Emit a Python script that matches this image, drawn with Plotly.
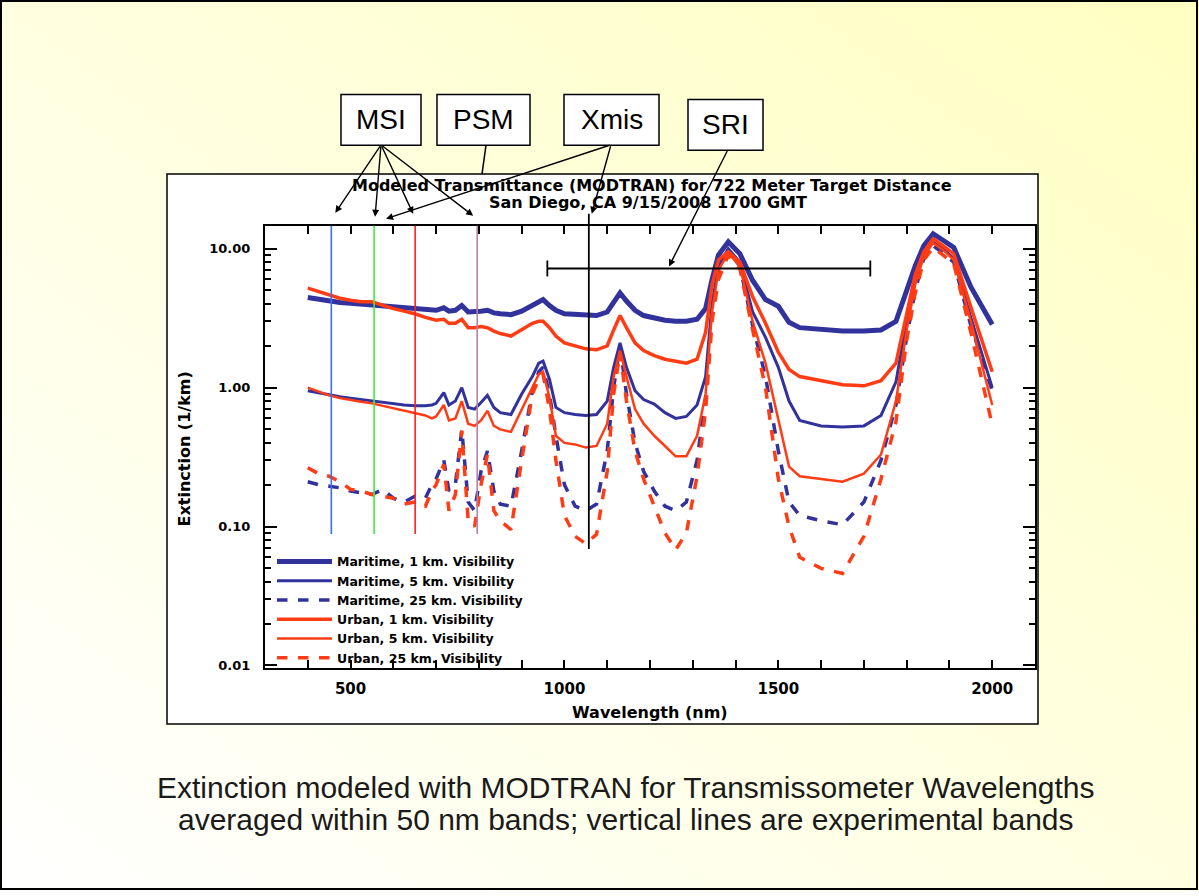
import base64
import math
import plotly.graph_objects as go

W, H = 1199, 896

# ---------------- data ----------------
wavelength = [400, 425, 450, 475, 500, 525, 550, 575, 600, 625, 650, 675, 690, 700, 718, 730, 745, 760,
              775, 790, 805, 820, 835, 850, 875, 900, 925, 940, 950, 965, 980, 1000, 1025, 1050, 1075,
              1100, 1115, 1130, 1145, 1165, 1185, 1210, 1235, 1260, 1285, 1310, 1330, 1345, 1360, 1383,
              1410, 1440, 1470, 1500, 1525, 1550, 1600, 1650, 1700, 1740, 1775, 1800, 1820, 1840, 1862,
              1885, 1910, 1950, 2000]

maritime_1km = [4.45, 4.3, 4.2, 4.1, 4.05, 4.0, 3.95, 3.85, 3.8, 3.75, 3.7, 3.65, 3.65, 3.6, 3.75, 3.55, 3.6, 3.9,
                3.5, 3.5, 3.55, 3.6, 3.45, 3.4, 3.35, 3.55, 3.9, 4.2, 4.3, 3.9, 3.6, 3.4, 3.35, 3.3, 3.3,
                3.5, 4.1, 4.8, 4.2, 3.6, 3.3, 3.15, 3.05, 3.0, 3.0, 3.1, 3.7, 6.0, 9.0, 11.2,
                9.2, 5.9, 4.3, 3.85, 2.95, 2.7, 2.6, 2.55, 2.55, 2.6, 3.0, 5.0, 7.5, 10.5, 12.8,
                11.5, 10.2, 5.3, 2.85]

maritime_5km = [0.95, 0.92, 0.88, 0.86, 0.84, 0.82, 0.8, 0.79, 0.77, 0.75, 0.74, 0.74, 0.75, 0.77, 0.92, 0.75, 0.8, 1.0,
                0.72, 0.7, 0.78, 0.88, 0.72, 0.66, 0.64, 0.9, 1.2, 1.5, 1.55, 1.15, 0.72, 0.66, 0.64, 0.63, 0.64,
                0.8, 1.4, 2.1, 1.4, 0.95, 0.82, 0.76, 0.66, 0.6, 0.62, 0.75, 1.2, 4.0, 7.5, 10.0,
                8.0, 3.5, 2.3, 1.4, 0.8, 0.58, 0.53, 0.52, 0.53, 0.63, 1.1, 3.0, 6.0, 9.0, 11.5,
                10.0, 8.5, 3.2, 1.0]

maritime_25km = [0.21, 0.2, 0.195, 0.19, 0.18, 0.175, 0.17, 0.185, 0.16, 0.15, 0.165, 0.16, 0.2, 0.22, 0.3, 0.18, 0.2, 0.5,
                 0.15, 0.13, 0.25, 0.35, 0.18, 0.145, 0.14, 0.35, 0.95, 1.3, 1.4, 0.9, 0.45, 0.2, 0.14, 0.13, 0.145,
                 0.35, 1.0, 2.0, 0.9, 0.4, 0.25, 0.18, 0.14, 0.13, 0.15, 0.3, 0.85, 3.5, 6.5, 9.5,
                 7.5, 2.8, 1.2, 0.35, 0.15, 0.12, 0.11, 0.103, 0.15, 0.3, 0.75, 2.3, 5.0, 8.5, 10.5,
                 9.3, 8.0, 2.8, 0.95]

urban_1km = [5.2, 4.9, 4.6, 4.4, 4.25, 4.15, 4.15, 3.9, 3.7, 3.55, 3.4, 3.2, 3.1, 3.05, 3.1, 2.9, 2.9, 3.1,
             2.7, 2.7, 2.75, 2.7, 2.55, 2.45, 2.35, 2.6, 2.9, 3.0, 3.0, 2.7, 2.35, 2.1, 2.0, 1.9, 1.87,
             2.0, 2.6, 3.3, 2.7, 2.1, 1.85, 1.7, 1.6, 1.55, 1.5, 1.6, 2.5, 5.5, 8.3, 9.5,
             8.0, 4.5, 2.9, 1.8, 1.35, 1.2, 1.12, 1.05, 1.03, 1.12, 1.5, 3.5, 6.5, 9.5, 11.8,
             10.5, 9.2, 3.8, 1.3]

urban_5km = [1.0, 0.94, 0.88, 0.84, 0.81, 0.79, 0.77, 0.74, 0.71, 0.68, 0.66, 0.63, 0.6, 0.62, 0.75, 0.58, 0.6, 0.8,
             0.55, 0.53, 0.58, 0.68, 0.53, 0.5, 0.48, 0.7, 1.0, 1.25, 1.3, 0.85, 0.45, 0.4, 0.39, 0.37, 0.38,
             0.55, 1.2, 1.85, 1.2, 0.7, 0.55, 0.45, 0.38, 0.32, 0.32, 0.45, 0.9, 3.5, 7.0, 9.3,
             7.5, 3.0, 1.5, 0.6, 0.27, 0.23, 0.22, 0.21, 0.24, 0.33, 0.8, 2.6, 5.5, 8.8, 11.0,
             9.8, 8.3, 3.0, 0.75]

urban_25km = [0.265, 0.24, 0.23, 0.21, 0.185, 0.18, 0.17, 0.165, 0.16, 0.145, 0.15, 0.14, 0.18, 0.2, 0.28, 0.13, 0.17, 0.49,
              0.11, 0.1, 0.2, 0.33, 0.13, 0.11, 0.095, 0.3, 0.9, 1.15, 1.25, 0.7, 0.3, 0.12, 0.085, 0.075, 0.088,
              0.25, 0.9, 1.8, 0.8, 0.35, 0.22, 0.14, 0.09, 0.068, 0.09, 0.23, 0.68, 3.0, 6.0, 9.0,
              7.2, 2.6, 1.0, 0.22, 0.1, 0.06, 0.05, 0.046, 0.085, 0.22, 0.57, 2.2, 4.8, 8.3, 10.2,
              9.0, 7.8, 2.5, 0.54]

series_names = ["Maritime, 1 km. Visibility", "Maritime, 5 km. Visibility", "Maritime, 25 km. Visibility",
                "Urban, 1 km. Visibility", "Urban, 5 km. Visibility", "Urban, 25 km. Visibility"]

# experimental bands (nm)
msi_bands = [455, 555, 651, 796]
msi_band_colors = ["#3c6cff", "#3cf03c", "#ff2020", "#b882a8"]
xmis_band = 1057
sri_range = [960, 1715]
sri_level = 7.2

x_tick_vals = [500, 1000, 1500, 2000]
x_tick_text = ["500", "1000", "1500", "2000"]
x_minor_vals = [400, 600, 700, 800, 900, 1100, 1200, 1300, 1400, 1600, 1700, 1800, 1900]
y_tick_vals = [0.01, 0.1, 1, 10]
y_tick_text = ["0.01", "0.10", "1.00", "10.00"]
y_minor_vals = [m * 10.0 ** e for e in (-2, -1, 0, 1) for m in range(2, 10)]

title_lines = ["Modeled Transmittance (MODTRAN) for 722 Meter Target Distance",
               "San Diego, CA 9/15/2008 1700 GMT"]
caption_lines = ["Extinction modeled with MODTRAN for Transmissometer Wavelengths",
                 "averaged within 50 nm bands; vertical lines are experimental bands"]

# ---------------- layout helpers ----------------
XR = [300, 2100]
YR = [-2.02, 1.165]
PL, PR, PT, PB = 265, 1035, 227, 672


def px(x):
    return x / W


def py(y):
    return 1 - y / H


def wl_px(l):
    return PL + (l - XR[0]) / (XR[1] - XR[0]) * (PR - PL)


BLUE = "#32329c"
RED = "#ff3c14"
TF = "DejaVu Sans"
SANS = "Liberation Sans, Arial"

fig = go.Figure()
styles = [
    (maritime_1km, BLUE, 5, "solid"),
    (maritime_5km, BLUE, 3, "solid"),
    (maritime_25km, BLUE, 3.5, "dash"),
    (urban_1km, RED, 3.5, "solid"),
    (urban_5km, RED, 2.5, "solid"),
    (urban_25km, RED, 3.5, "dash"),
]
for (vals, col, w, dash), name in zip(styles, series_names):
    fig.add_trace(go.Scatter(x=wavelength, y=vals, mode="lines", name=name,
                             line=dict(color=col, width=w, dash=dash)))
# empty traces so the mirrored (top/right) tick axes are rendered
fig.add_trace(go.Scatter(x=[None], y=[None], xaxis="x2", yaxis="y2", showlegend=False, hoverinfo="skip"))
fig.add_trace(go.Scatter(x=[None], y=[None], xaxis="x2", yaxis="y3", showlegend=False, hoverinfo="skip"))

shapes = []
annotations = []


def label(x, y, text, font, **kw):
    d = dict(xref="paper", yref="paper", x=px(x), y=py(y), showarrow=False, text=text,
             xanchor="center", yanchor="middle", font=font)
    d.update(kw)
    annotations.append(d)


# gradient slide background
svg = (f'<svg xmlns="http://www.w3.org/2000/svg" width="{W}" height="{H}">'
       '<defs><linearGradient id="g" x1="1" y1="0" x2="0" y2="1">'
       '<stop offset="0" stop-color="#FFFFC2"/><stop offset="1" stop-color="#FFFFFF"/>'
       '</linearGradient></defs><rect width="100%" height="100%" fill="url(#g)"/></svg>')
src = "data:image/svg+xml;base64," + base64.b64encode(svg.encode()).decode()

# slide border + white figure panel
shapes.append(dict(type="rect", xref="paper", yref="paper", x0=px(1), x1=px(1197), y0=py(1), y1=py(894),
                   line=dict(color="black", width=2), fillcolor="rgba(0,0,0,0)", layer="below"))
shapes.append(dict(type="rect", xref="paper", yref="paper", x0=px(167), x1=px(1038), y0=py(175), y1=py(728),
                   line=dict(color="black", width=1.5), fillcolor="white", layer="below"))

# vertical band lines
for b, c in zip(msi_bands, msi_band_colors):
    shapes.append(dict(type="line", xref="x", yref="paper", x0=b, x1=b, y0=py(537), y1=py(PT),
                       line=dict(color=c, width=1.6), layer="above"))
shapes.append(dict(type="line", xref="x", yref="paper", x0=xmis_band, x1=xmis_band, y0=py(552), y1=py(215),
                   line=dict(color="black", width=1.8), layer="above"))

# SRI bar
sri_y = PT + (YR[1] - math.log10(sri_level)) / (YR[1] - YR[0]) * (PB - PT)
shapes.append(dict(type="line", xref="x", yref="paper", x0=sri_range[0], x1=sri_range[1],
                   y0=py(sri_y), y1=py(sri_y), line=dict(color="black", width=1.8), layer="above"))
for e in sri_range:
    shapes.append(dict(type="line", xref="x", yref="paper", x0=e, x1=e,
                       y0=py(sri_y - 8), y1=py(sri_y + 8), line=dict(color="black", width=1.8), layer="above"))

# title (two lines)
label(652, 187, title_lines[0], dict(family=TF, size=16, color="black", weight="bold"))
label(648, 204, title_lines[1], dict(family=TF, size=16, color="black", weight="bold"))

# label boxes
boxes = [("MSI", 341, 95, 421, 146), ("PSM", 437, 95, 530, 146),
         ("Xmis", 564, 95, 659, 146), ("SRI", 688, 100, 763, 151)]
for txt, x0, y0, x1, y1 in boxes:
    shapes.append(dict(type="rect", xref="paper", yref="paper", x0=px(x0), x1=px(x1), y0=py(y1), y1=py(y0),
                       line=dict(color="black", width=1.5), fillcolor="white", layer="above"))
    label((x0 + x1) / 2, (y0 + y1) / 2, txt, dict(family=SANS, size=28, color="black"))

# PSM connector (cut off at the white panel)
shapes.append(dict(type="line", xref="paper", yref="paper", x0=px(486), x1=px(482), y0=py(146), y1=py(175),
                   line=dict(color="black", width=1.5), layer="above"))


def arrow(tx, ty, hx, hy):
    annotations.append(dict(xref="paper", yref="paper", x=px(hx), y=py(hy), ax=tx - hx, ay=ty - hy,
                            axref="pixel", ayref="pixel", text="", showarrow=True,
                            arrowhead=2, arrowsize=1, arrowwidth=1.4, arrowcolor="black"))


# MSI arrows
for b, off, hy in zip(msi_bands, [4, 1, -2, -4], [214, 218, 215, 217]):
    arrow(381, 146, wl_px(b) + off, hy)
# Xmis arrows
arrow(611, 146, wl_px(msi_bands[1]) + 12, 220)
arrow(611, 146, wl_px(xmis_band) + 3, 215)
# SRI arrow
arrow(728, 151, 669, sri_y - 2)

# axis titles
label(184, 452, "Extinction (1/km)", dict(family=TF, size=16, color="black", weight="bold"), textangle=-90)
label(650, 716, "Wavelength (nm)", dict(family=TF, size=16, color="black", weight="bold"))

# caption
for i, line in enumerate(caption_lines):
    label(626, 792 + 32 * i, line, dict(family=SANS, size=30, color="#1a1a1a"))

tick_common = dict(ticks="inside", tickwidth=2, tickcolor="black", showgrid=False, zeroline=False)
x_minor = dict(tickvals=x_minor_vals, ticks="inside", ticklen=8, tickwidth=2, tickcolor="black", showgrid=False)
y_minor = dict(tickvals=y_minor_vals, ticks="inside", ticklen=6, tickwidth=2, tickcolor="black", showgrid=False)
x_all_ticks = sorted(x_tick_vals + x_minor_vals)

fig.update_layout(
    width=W, height=H,
    margin=dict(l=0, r=0, t=0, b=0),
    paper_bgcolor="white",
    plot_bgcolor="white",
    images=[dict(source=src, xref="paper", yref="paper", x=0, y=1, sizex=1, sizey=1,
                 xanchor="left", yanchor="top", sizing="stretch", layer="below")],
    shapes=shapes,
    annotations=annotations,
    showlegend=True,
    legend=dict(x=px(272), y=py(550), xanchor="left", yanchor="top", bgcolor="rgba(0,0,0,0)",
                font=dict(family=TF, size=12.5, color="black", weight="bold"),
                itemwidth=55, tracegroupgap=0, traceorder="normal"),
    xaxis=dict(range=XR, domain=[px(PL), px(PR)], showline=True, linecolor="black", linewidth=2,
               mirror=True, ticklen=8, tickvals=x_tick_vals, ticktext=x_tick_text,
               ticklabelstandoff=6,
               tickfont=dict(family=TF, size=15, color="black", weight="bold"),
               minor=x_minor, **tick_common),
    yaxis=dict(type="log", range=YR, domain=[py(PB), py(PT)], showline=True, linecolor="black", linewidth=2,
               mirror=True, ticklen=12, tickvals=y_tick_vals, ticktext=y_tick_text,
               ticklabelstandoff=10,
               tickfont=dict(family=TF, size=13, color="black", weight="bold"),
               minor=y_minor, **tick_common),
    xaxis2=dict(range=XR, domain=[px(PL), px(PR)], overlaying="x", side="top", anchor="y2",
                showline=False, showticklabels=False, ticklen=8, tickmode="array", tickvals=x_all_ticks,
                **tick_common),
    yaxis2=dict(type="log", range=YR, domain=[py(PB), py(PT)], overlaying="y", side="right", anchor="x2",
                showline=False, showticklabels=False, ticklen=12, tickmode="array", tickvals=y_tick_vals,
                **tick_common),
    yaxis3=dict(type="log", range=YR, domain=[py(PB), py(PT)], overlaying="y", side="right", anchor="x2",
                showline=False, showticklabels=False, ticklen=6, tickmode="array", tickvals=y_minor_vals,
                **tick_common),
)

fig.write_html("out.html")
